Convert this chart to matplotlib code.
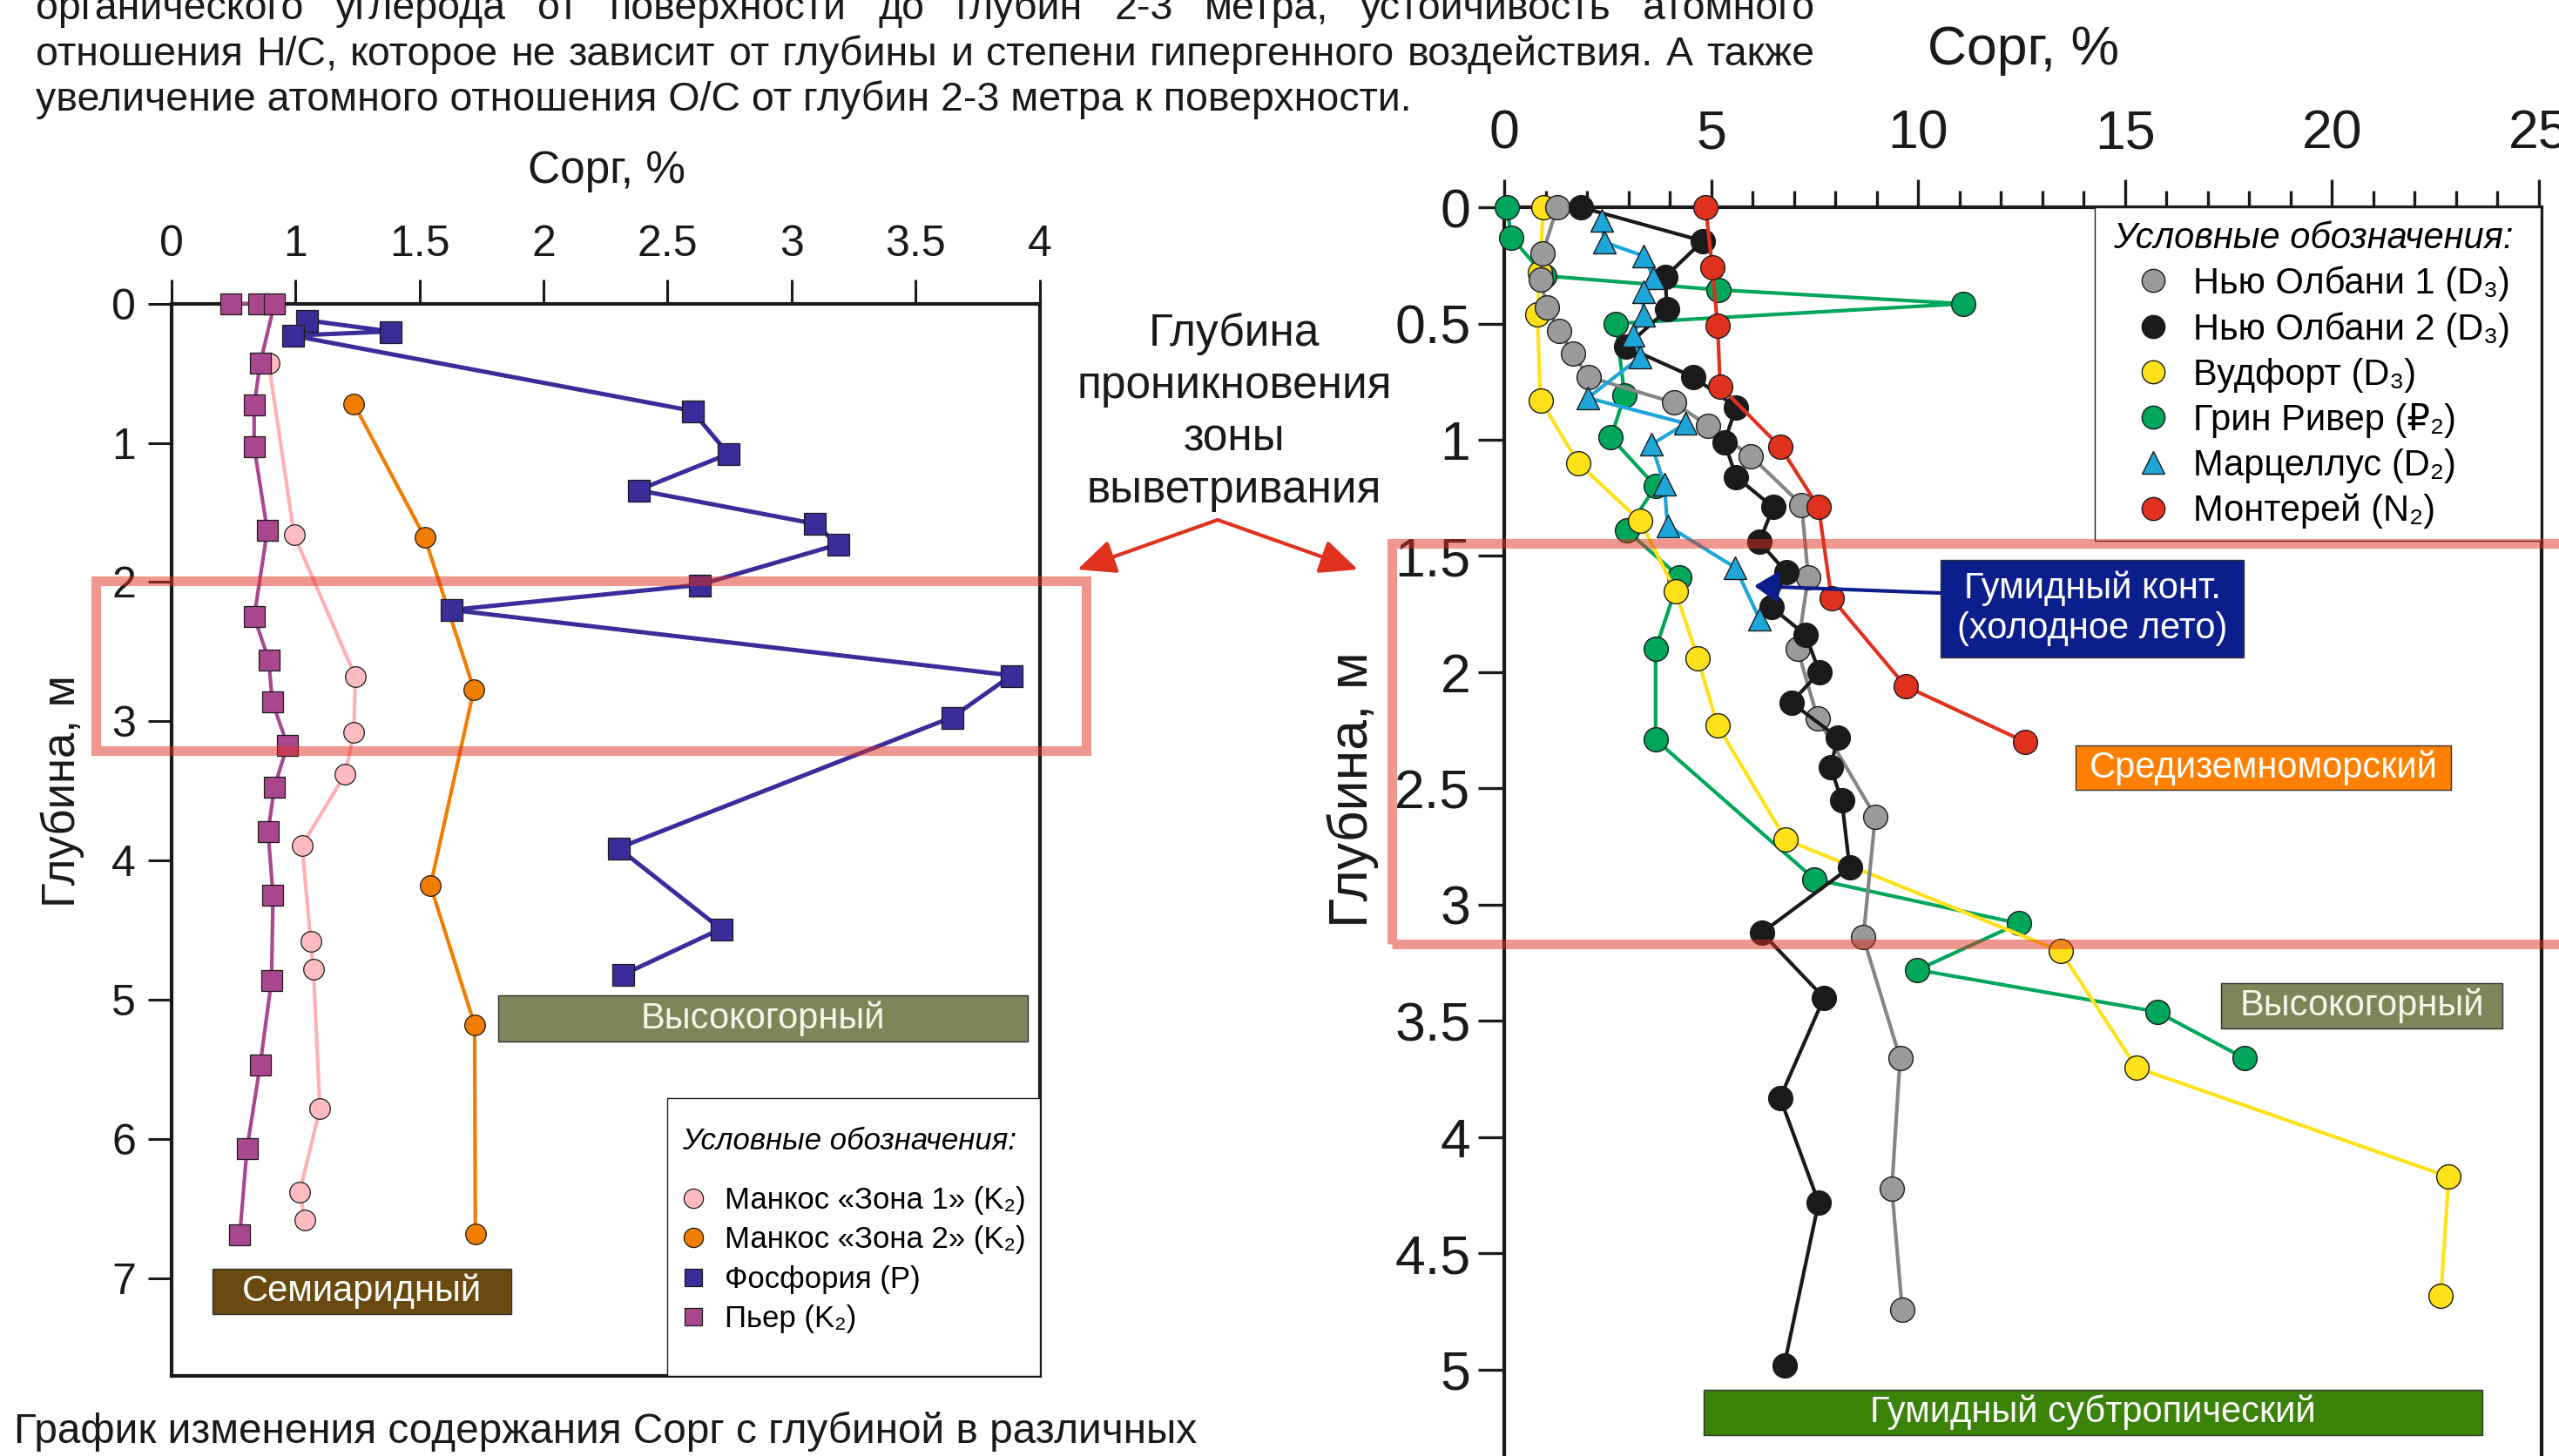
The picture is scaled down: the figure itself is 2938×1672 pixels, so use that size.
import matplotlib
matplotlib.use("Agg")
import matplotlib.pyplot as plt
from matplotlib.patches import Rectangle, FancyArrowPatch
from matplotlib.lines import Line2D
from matplotlib.ticker import MultipleLocator
from matplotlib.font_manager import FontProperties

FAM = ["Liberation Sans", "DejaVu Sans"]
plt.rcParams["font.family"] = FAM

W, H, DPI = 2938, 1672, 100

# ---------------- Data: left chart (x in axis-position units) ----------------
left_xticks = [0, 0.5, 1, 1.5, 2, 2.5, 3, 3.5]
left_xticklabels = ["0", "1", "1.5", "2", "2.5", "3", "3.5", "4"]
left_yticks = [0, 1, 2, 3, 4, 5, 6, 7]

pier_x = [0.24, 0.351, 0.415, 0.357, 0.333, 0.333, 0.386, 0.333, 0.392, 0.406,
          0.467, 0.415, 0.389, 0.409, 0.403, 0.357, 0.304, 0.275]
pier_y = [0, 0, 0, 0.43, 0.73, 1.03, 1.63, 2.25, 2.56, 2.86,
          3.17, 3.47, 3.79, 4.25, 4.86, 5.47, 6.07, 6.69]

mancos1_x = [0.392, 0.494, 0.741, 0.735, 0.70, 0.526, 0.561, 0.572, 0.598, 0.517, 0.537]
mancos1_y = [0.43, 1.66, 2.68, 3.08, 3.38, 3.89, 4.58, 4.78, 5.78, 6.38, 6.58]

mancos2_x = [0.735, 1.021, 1.219, 1.044, 1.222, 1.225]
mancos2_y = [0.72, 1.68, 2.77, 4.18, 5.18, 6.68]

phos_x = [0.546, 0.881, 0.488, 2.099, 2.245, 1.881, 2.591, 2.688, 2.128, 1.129,
          3.387, 3.148, 1.802, 2.215, 1.819]
phos_y = [0.12, 0.20, 0.23, 0.77, 1.08, 1.34, 1.58, 1.73, 2.02, 2.20,
          2.67, 2.97, 3.91, 4.49, 4.82]

left_labels = ["Манкос «Зона 1» (K₂)", "Манкос «Зона 2» (K₂)", "Фосфория (P)", "Пьер (K₂)"]

# ---------------- Data: right chart ----------------
right_xticks = [0, 5, 10, 15, 20, 25]
right_yticks = [0, 0.5, 1, 1.5, 2, 2.5, 3, 3.5, 4, 4.5, 5]
right_yticklabels = ["0", "0.5", "1", "1.5", "2", "2.5", "3", "3.5", "4", "4.5", "5"]

na1_x = [1.27, 0.92, 0.87, 1.02, 1.32, 1.65, 2.03, 4.09, 4.92, 5.95, 7.18, 7.34,
         7.08, 7.57, 8.96, 8.67, 9.56, 9.36, 9.61]
na1_y = [0, 0.20, 0.31, 0.43, 0.53, 0.63, 0.73, 0.84, 0.94, 1.07, 1.28, 1.59,
         1.90, 2.20, 2.62, 3.14, 3.66, 4.22, 4.74]

na2_x = [1.84, 4.79, 3.88, 3.93, 2.93, 4.56, 5.60, 5.31, 5.60, 6.49, 6.16, 6.81,
         6.45, 7.28, 7.61, 6.93, 8.05, 7.88, 8.15, 8.34, 6.22, 7.72, 6.66, 7.59, 6.76]
na2_y = [0, 0.145, 0.30, 0.44, 0.60, 0.73, 0.86, 1.01, 1.16, 1.29, 1.44, 1.57,
         1.72, 1.84, 2.00, 2.13, 2.28, 2.41, 2.55, 2.84, 3.12, 3.40, 3.83, 4.28, 4.98]

wood_x = [0.93, 0.86, 0.79, 0.87, 1.78, 3.28, 4.13, 4.67, 5.15, 6.80, 13.44, 15.27, 22.82, 22.63]
wood_y = [0, 0.28, 0.46, 0.83, 1.10, 1.35, 1.65, 1.94, 2.23, 2.72, 3.20, 3.70, 4.17, 4.68]

green_x = [0.05, 0.17, 0.97, 5.17, 11.08, 2.69, 2.90, 2.57, 3.65, 2.95, 4.23, 3.65,
           3.65, 7.49, 12.43, 9.98, 15.77, 17.88]
green_y = [0, 0.13, 0.295, 0.355, 0.415, 0.50, 0.81, 0.99, 1.20, 1.39, 1.59, 1.90,
           2.29, 2.89, 3.08, 3.28, 3.46, 3.66]

marc_x = [2.35, 2.41, 3.37, 3.60, 3.35, 3.35, 3.10, 3.28, 2.01, 4.38, 3.55, 3.86, 3.94, 5.58, 6.16]
marc_y = [0.055, 0.15, 0.21, 0.305, 0.363, 0.463, 0.55, 0.645, 0.82, 0.93, 1.02, 1.19, 1.37, 1.55, 1.77]

mont_x = [4.86, 5.02, 5.15, 5.21, 6.66, 7.59, 7.90, 9.69, 12.59]
mont_y = [0, 0.26, 0.51, 0.77, 1.03, 1.29, 1.68, 2.06, 2.30]

right_labels = ["Нью Олбани 1 (D₃)", "Нью Олбани 2 (D₃)", "Вудфорт (D₃)",
                "Грин Ривер (₽₂)", "Марцеллус (D₂)", "Монтерей (N₂)"]

# ---------------- Texts ----------------
top_lines = [
    "органического углерода от поверхности до глубин 2-3 метра, устойчивость атомного",
    "отношения Н/С, которое не зависит от глубины и степени гипергенного воздействия. А также",
    "увеличение атомного отношения О/С от глубин 2-3 метра к поверхности.",
]
caption = "График изменения содержания Сорг с глубиной в различных"
mid_lines = ["Глубина", "проникновения", "зоны", "выветривания"]

# ---------------- Colours ----------------
C_PIER = "#a8478e"
C_M1F, C_M1L = "#ffbcc0", "#ffb0b6"
C_M2 = "#f07c00"
C_PHOS = "#3a2d9a"
C_NA1F, C_NA1L = "#9a9a9a", "#858585"
C_NA2 = "#1a1a1a"
C_WOOD = "#ffe11a"
C_GREEN = "#00a65a"
C_MARC = "#1ea6d8"
C_MONT = "#e0301e"
EDGE = "#1a1a1a"

fig = plt.figure(figsize=(W / DPI, H / DPI), dpi=DPI)
fig.patch.set_facecolor("white")


def fx(x):
    return x / W


def fy(y):
    return 1 - y / H


def fbox(x0, y0, x1, y1):
    return (fx(x0), fy(y1), (x1 - x0) / W, (y1 - y0) / H)


# ================= LEFT CHART =================
axL = fig.add_axes(fbox(197, 348.6, 1193.5, 1580))
axL.set_xlim(0, 3.5)
axL.set_ylim(7.7, 0)

lw_l = 3.0
axL.plot(mancos1_x, mancos1_y, color=C_M1L, lw=lw_l, marker="o", ms=17, mfc=C_M1F,
         mec=EDGE, mew=0.9, zorder=3, clip_on=False)
axL.plot(mancos2_x, mancos2_y, color=C_M2, lw=lw_l, marker="o", ms=17, mfc=C_M2,
         mec=EDGE, mew=0.9, zorder=3, clip_on=False)
axL.plot(phos_x, phos_y, color=C_PHOS, lw=3.6, marker="s", ms=18, mfc=C_PHOS,
         mec=EDGE, mew=0.9, zorder=4, clip_on=False)
axL.plot(pier_x, pier_y, color=C_PIER, lw=lw_l, marker="s", ms=17, mfc=C_PIER,
         mec=EDGE, mew=0.9, zorder=5, clip_on=False)

axL.xaxis.tick_top()
axL.set_xticks(left_xticks)
axL.set_xticklabels(left_xticklabels)
axL.set_yticks(left_yticks)
axL.set_yticklabels([str(v) for v in left_yticks])
axL.tick_params(axis="x", which="major", direction="out", length=20, width=2.2, pad=12,
                labelsize=36, top=True, bottom=False, labeltop=True, labelbottom=False,
                colors="#1a1a1a")
axL.tick_params(axis="y", which="major", direction="out", length=19.5, width=2.2, pad=10,
                labelsize=36, colors="#1a1a1a")
for s in axL.spines.values():
    s.set_linewidth(3.0)
    s.set_color("#1a1a1a")

# left legend (frame + legend)
axL.add_patch(Rectangle((fx(766), fy(1580)), (1193.5 - 766) / W, (1580 - 1261) / H,
                        transform=fig.transFigure, facecolor="white", edgecolor="#1a1a1a",
                        lw=1.0, zorder=4.5, clip_on=False))
hL = [
    Line2D([], [], ls="none", marker="o", ms=16, mfc=C_M1F, mec=EDGE, mew=0.9),
    Line2D([], [], ls="none", marker="o", ms=16, mfc=C_M2, mec=EDGE, mew=0.9),
    Line2D([], [], ls="none", marker="s", ms=15, mfc=C_PHOS, mec=EDGE, mew=0.9),
    Line2D([], [], ls="none", marker="s", ms=15, mfc=C_PIER, mec=EDGE, mew=0.9),
]
legL = axL.legend(hL, left_labels, loc="upper left", bbox_to_anchor=(fx(783), fy(1294)),
                  bbox_transform=fig.transFigure, frameon=False, borderpad=0, borderaxespad=0,
                  title="Условные обозначения:",
                  title_fontproperties=FontProperties(family=FAM, style="italic", size=25),
                  alignment="left", prop=FontProperties(family=FAM, size=25),
                  handlelength=0.75, handletextpad=0.66, labelspacing=0.36)
legL._legend_box.sep = 25
legL.set_zorder(6)

# ================= RIGHT CHART =================
axR = fig.add_axes(fbox(1727.4, 238, 2917.8, 1706.5))
axR.set_xlim(0, 25.06)
axR.set_ylim(5.5, 0)

lw_r = 3.0
ms_r = 20
axR.plot(green_x, green_y, color=C_GREEN, lw=lw_r, marker="o", ms=ms_r, mfc=C_GREEN,
         mec=EDGE, mew=1.0, zorder=3, clip_on=False)
axR.plot(wood_x, wood_y, color=C_WOOD, lw=lw_r, marker="o", ms=ms_r, mfc=C_WOOD,
         mec=EDGE, mew=1.0, zorder=3.1, clip_on=False)
axR.plot(na1_x, na1_y, color=C_NA1L, lw=lw_r, marker="o", ms=ms_r, mfc=C_NA1F,
         mec=EDGE, mew=1.0, zorder=3.2, clip_on=False)
axR.plot(na2_x, na2_y, color=C_NA2, lw=lw_r, marker="o", ms=ms_r, mfc=C_NA2,
         mec=EDGE, mew=1.0, zorder=3.3, clip_on=False)
axR.plot(marc_x, marc_y, color=C_MARC, lw=lw_r, marker="^", ms=19, mfc=C_MARC,
         mec=EDGE, mew=1.0, zorder=3.4, clip_on=False)
axR.plot(mont_x, mont_y, color=C_MONT, lw=lw_r, marker="o", ms=ms_r, mfc=C_MONT,
         mec=EDGE, mew=1.0, zorder=3.5, clip_on=False)

axR.xaxis.tick_top()
axR.set_xticks(right_xticks)
axR.set_xticklabels([str(v) for v in right_xticks])
axR.xaxis.set_minor_locator(MultipleLocator(1))
axR.set_yticks(right_yticks)
axR.set_yticklabels(right_yticklabels)
axR.tick_params(axis="x", which="major", direction="out", length=23, width=2.4, pad=16,
                labelsize=45, top=True, bottom=False, labeltop=True, labelbottom=False,
                colors="#1a1a1a")
axR.tick_params(axis="x", which="minor", direction="out", length=14, width=2.4,
                top=True, bottom=False, colors="#1a1a1a")
axR.tick_params(axis="y", which="major", direction="out", length=21.6, width=2.4, pad=6.5,
                labelsize=45, colors="#1a1a1a")
for s in axR.spines.values():
    s.set_linewidth(3.0)
    s.set_color("#1a1a1a")
axR.spines["bottom"].set_visible(False)

axR.add_patch(Rectangle((fx(2405), fy(621)), (2917 - 2405) / W, (621 - 238) / H,
                        transform=fig.transFigure, facecolor="white", edgecolor="#1a1a1a",
                        lw=1.0, zorder=4.5, clip_on=False))
hR = [
    Line2D([], [], ls="none", marker="o", ms=19, mfc=C_NA1F, mec=EDGE, mew=1.0),
    Line2D([], [], ls="none", marker="o", ms=19, mfc=C_NA2, mec=EDGE, mew=1.0),
    Line2D([], [], ls="none", marker="o", ms=19, mfc=C_WOOD, mec=EDGE, mew=1.0),
    Line2D([], [], ls="none", marker="o", ms=19, mfc=C_GREEN, mec=EDGE, mew=1.0),
    Line2D([], [], ls="none", marker="^", ms=19, mfc=C_MARC, mec=EDGE, mew=1.0),
    Line2D([], [], ls="none", marker="o", ms=19, mfc=C_MONT, mec=EDGE, mew=1.0),
]
legR = axR.legend(hR, right_labels, loc="upper left", bbox_to_anchor=(fx(2426), fy(254)),
                  bbox_transform=fig.transFigure, frameon=False, borderpad=0, borderaxespad=0,
                  title="Условные обозначения:",
                  title_fontproperties=FontProperties(family=FAM, style="italic", size=30),
                  alignment="left", prop=FontProperties(family=FAM, size=30),
                  handlelength=2.2, handletextpad=0.0, labelspacing=0.29)
legR._legend_box.sep = 8
legR.set_zorder(6)

# ================= Axis titles =================
fig.text(fx(697), fy(210), "Сорг, %", ha="center", va="baseline", fontsize=37, color="#1a1a1a")
fig.text(fx(2323), fy(74), "Сорг, %", ha="center", va="baseline", fontsize=45, color="#1a1a1a")
fig.text(fx(72), fy(909), "Глубина, м", ha="center", va="center", rotation=90, fontsize=38,
         color="#1a1a1a")
fig.text(fx(1553), fy(907), "Глубина, м", ha="center", va="center", rotation=90, fontsize=45,
         color="#1a1a1a")

# ================= Climate label boxes =================
def label_box(x0, y0, x1, y1, text, face, tcolor="white", size=30):
    fig.add_artist(Rectangle((fx(x0), fy(y1)), (x1 - x0) / W, (y1 - y0) / H,
                             transform=fig.transFigure, facecolor=face, edgecolor="#333333",
                             lw=1.0, zorder=7))
    fig.text(fx((x0 + x1) / 2), fy((y0 + y1) / 2), text, ha="center", va="center",
             fontsize=size, color=tcolor, zorder=8, linespacing=1.2)


label_box(244, 1457, 587, 1509, "Семиаридный", "#6b4a10")
label_box(572, 1143, 1180, 1196, "Высокогорный", "#80845a", "#f6f6ea")
label_box(2383, 856, 2814, 907, "Средиземноморский", "#ff7f00")
label_box(2550, 1129, 2873, 1181, "Высокогорный", "#80845a", "#f6f6ea")
label_box(1956, 1596, 2850, 1648, "Гумидный субтропический", "#3a8208")
label_box(2228, 643, 2576, 755, "Гумидный конт.\n(холодное лето)", "#0a1e8c")

fig.add_artist(FancyArrowPatch((fx(2228), fy(681)), (fx(2014), fy(673)),
                               transform=fig.transFigure, arrowstyle="-|>,head_length=0.83,head_width=0.54",
                               mutation_scale=20, color="#0a1e8c", lw=3, shrinkA=0, shrinkB=0,
                               zorder=8))

# ================= Weathering zone text / arrows / rectangles =================
for i, t in enumerate(mid_lines):
    fig.text(fx(1417), fy(397 + 60 * i), t, ha="center", va="baseline", fontsize=37,
             color="#1a1a1a")
for tip in [(1237, 654), (1559, 654)]:
    fig.add_artist(FancyArrowPatch((fx(1398), fy(597)), (fx(tip[0]), fy(tip[1])),
                                   transform=fig.transFigure,
                                   arrowstyle="-|>,head_length=1.33,head_width=0.6",
                                   mutation_scale=20, color=C_MONT, lw=3, shrinkA=0, shrinkB=0,
                                   zorder=8))

for (x0, y0, x1, y1) in [(110, 667, 1247, 862), (1597.6, 623.6, 3000, 1083.5)]:
    fig.add_artist(Rectangle((fx(x0), fy(y1)), (x1 - x0) / W, (y1 - y0) / H,
                             transform=fig.transFigure, fill=False, edgecolor=C_MONT,
                             alpha=0.5, lw=8, zorder=9))

# ================= Paragraph text (top) and caption =================
renderer = fig.canvas.get_renderer()


def fit_size(text, target_w, base=32):
    t = fig.text(0, 0, text, fontsize=base)
    w = t.get_window_extent(renderer).width
    t.remove()
    return base * target_w / w


top_size = fit_size(top_lines[2], 1621 - 41)
baselines = [22, 75, 127]


def justify(line, x0, x1, ybase, size):
    words = line.split(" ")
    texts = [fig.text(0, fy(ybase), w, fontsize=size, va="baseline", color="#1a1a1a")
             for w in words]
    widths = [t.get_window_extent(renderer).width for t in texts]
    gap = (x1 - x0 - sum(widths)) / (len(words) - 1)
    x = x0
    for t, w in zip(texts, widths):
        t.set_x(fx(x))
        x += w + gap


justify(top_lines[0], 41, 2083, baselines[0], top_size)
justify(top_lines[1], 41, 2083, baselines[1], top_size)
fig.text(fx(41), fy(baselines[2]), top_lines[2], fontsize=top_size, va="baseline",
         color="#1a1a1a")

cap_size = fit_size(caption, 1377 - 16)
fig.text(fx(16), fy(1657), caption, fontsize=cap_size, va="baseline", color="#1a1a1a")

fig.savefig("out.png", dpi=DPI, facecolor="white")
